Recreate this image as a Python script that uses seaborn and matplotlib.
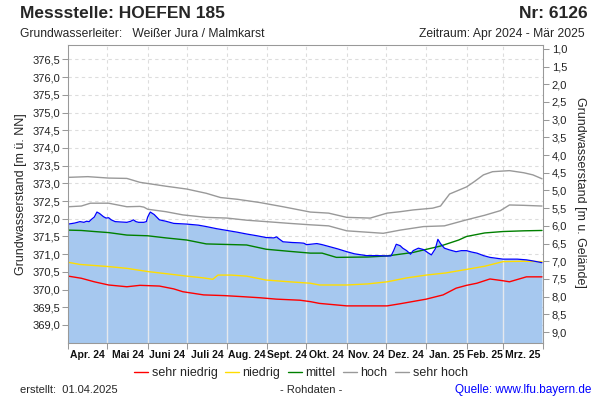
import numpy as np
import pandas as pd
import matplotlib
matplotlib.use("Agg")
import matplotlib.pyplot as plt
import matplotlib.dates as mdates
from matplotlib.ticker import FixedLocator, FuncFormatter
import seaborn as sns

# ---------------- data (days since 2024-04-01, level in m ü. NN) ----------------
start = pd.Timestamp("2024-04-01")

meas_days = [0, 5, 9, 12, 14, 16, 18, 20, 22, 24, 27, 29, 31, 33, 36, 40, 45, 48, 50, 52,
             54, 58, 60, 61, 63, 66, 70, 75, 81, 91, 100, 106, 114, 122, 130, 137, 145, 152,
             158, 160, 162, 165, 172, 178, 181, 183, 186, 191, 195, 201, 207, 214, 220, 229,
             237, 245, 248, 250, 252, 255, 257, 260, 263, 265, 269, 273, 276, 279, 282, 284,
             286, 289, 293, 298, 302, 306, 310, 314, 319, 324, 334, 345, 352, 357, 364]
meas_vals = [371.85, 371.88, 371.92, 371.90, 371.93, 371.92, 371.99, 372.05, 372.19, 372.15,
             372.06, 372.02, 372.03, 371.97, 371.92, 371.91, 371.90, 371.93, 371.97, 371.92,
             371.90, 371.90, 371.92, 372.05, 372.19, 372.12, 371.97, 371.93, 371.87, 371.85,
             371.82, 371.78, 371.72, 371.67, 371.62, 371.57, 371.52, 371.47, 371.46, 371.49,
             371.43, 371.35, 371.33, 371.32, 371.31, 371.27, 371.28, 371.30, 371.27, 371.21,
             371.15, 371.07, 371.01, 370.96, 370.96, 370.95, 370.95, 371.10, 371.28, 371.24,
             371.17, 371.10, 371.00, 371.10, 371.17, 371.13, 371.05, 370.98, 371.15, 371.42,
             371.30, 371.17, 371.12, 371.07, 371.10, 371.10, 371.06, 371.03, 370.96, 370.91,
             370.86, 370.86, 370.84, 370.81, 370.76]

sn_days = [0, 10, 20, 31, 45, 55, 70, 81, 88, 104, 120, 134, 147, 160, 178, 186, 193, 214,
           230, 245, 255, 275, 288, 298, 306, 314, 324, 334, 339, 352, 364]
sn_vals = [370.38, 370.32, 370.22, 370.13, 370.08, 370.12, 370.10, 370.02, 369.94, 369.85,
           369.83, 369.80, 369.77, 369.73, 369.70, 369.66, 369.61, 369.54, 369.54, 369.54,
           369.60, 369.73, 369.85, 370.04, 370.12, 370.18, 370.30, 370.25, 370.22, 370.36, 370.36]

n_days = [0, 9, 20, 31, 45, 61, 75, 91, 104, 111, 113, 115, 125, 137, 152, 170, 186, 193,
          214, 230, 245, 260, 275, 290, 306, 320, 334, 350, 364]
n_vals = [370.77, 370.71, 370.68, 370.65, 370.60, 370.51, 370.45, 370.38, 370.33, 370.29,
          370.35, 370.41, 370.41, 370.38, 370.27, 370.22, 370.18, 370.13, 370.13, 370.16,
          370.22, 370.33, 370.41, 370.47, 370.57, 370.66, 370.79, 370.80, 370.79]

m_days = [0, 10, 20, 31, 45, 61, 75, 91, 106, 137, 152, 170, 186, 195, 206, 230, 245, 265,
          286, 300, 306, 320, 334, 350, 364]
m_vals = [371.68, 371.67, 371.64, 371.61, 371.54, 371.52, 371.46, 371.40, 371.29, 371.26,
          371.14, 371.08, 371.03, 371.03, 370.91, 370.92, 370.95, 371.05, 371.23, 371.40,
          371.50, 371.60, 371.64, 371.66, 371.67]

h_days = [0, 10, 17, 31, 45, 55, 58, 61, 75, 88, 106, 122, 137, 152, 170, 186, 200, 214,
          230, 242, 255, 273, 289, 306, 320, 332, 339, 350, 364]
h_vals = [372.34, 372.36, 372.44, 372.44, 372.34, 372.35, 372.33, 372.27, 372.20, 372.11,
          372.04, 372.02, 371.96, 371.92, 371.87, 371.83, 371.80, 371.66, 371.62, 371.59,
          371.68, 371.78, 371.80, 371.97, 372.10, 372.23, 372.39, 372.38, 372.36]

sh_days = [0, 15, 31, 45, 55, 75, 91, 106, 117, 130, 147, 165, 186, 200, 214, 232, 245, 255,
           265, 280, 286, 293, 306, 312, 319, 326, 339, 350, 357, 364]
sh_vals = [373.17, 373.19, 373.15, 373.14, 373.03, 372.92, 372.84, 372.72, 372.60, 372.55,
           372.46, 372.34, 372.19, 372.16, 372.04, 372.02, 372.16, 372.20, 372.25, 372.30,
           372.36, 372.70, 372.90, 373.05, 373.24, 373.33, 373.36, 373.30, 373.24, 373.13]

month_labels = ["Apr. 24", "Mai 24", "Juni 24", "Juli 24", "Aug. 24", "Sept. 24",
                "Okt. 24", "Nov. 24", "Dez. 24", "Jan. 25", "Feb. 25", "Mrz. 25"]
legend_labels = ["sehr niedrig", "niedrig", "mittel", "hoch", "sehr hoch"]
left_ticks = [369.0, 369.5, 370.0, 370.5, 371.0, 371.5, 372.0, 372.5, 373.0,
              373.5, 374.0, 374.5, 375.0, 375.5, 376.0, 376.5]
right_ticks = [1.0, 1.5, 2.0, 2.5, 3.0, 3.5, 4.0, 4.5, 5.0, 5.5, 6.0, 6.5, 7.0,
               7.5, 8.0, 8.5, 9.0]
ground_level = 377.8

# ---------------- style ----------------
sns.set_theme(style="white")
plt.rcParams["font.family"] = ["Liberation Sans", "DejaVu Sans"]

def to_dates(days):
    return start + pd.to_timedelta(days, unit="D")

fig = plt.figure(figsize=(6, 4), dpi=100)
ax = fig.add_axes([68.3 / 600, 1 - 342.7 / 400, (543.3 - 68.3) / 600, (342.7 - 45.3) / 400])

ymin, ymax = 368.5, 376.9
xmin, xmax = start, pd.Timestamp("2025-04-01")
ax.set_xlim(xmin, xmax)
ax.set_ylim(ymin, ymax)

# grid (behind)
month_starts = pd.date_range("2024-04-01", "2025-04-01", freq="MS")
for y in left_ticks:
    ax.axhline(y, color="#dddddd", lw=0.8, ls=(0, (3, 3)), zorder=0)
for d in month_starts[1:-1]:
    ax.axvline(d, color="#dddddd", lw=0.8, ls=(0, (3, 3)), zorder=0)

# measured level, filled
mdates_x = to_dates(meas_days)
ax.fill_between(mdates_x, meas_vals, ymin, color="#a6c8ef", lw=0, zorder=1)
# light month separators within the fill
mnum = mdates.date2num(mdates_x)
for d in month_starts[1:-1]:
    top = np.interp(mdates.date2num(d), mnum, meas_vals)
    ax.plot([d, d], [ymin, top], color="#e4e8ee", lw=1.0, zorder=1.5)

colors = ["#ff0000", "#ffdd00", "#008000", "#999999", "#999999"]
series = [(sn_days, sn_vals), (n_days, n_vals), (m_days, m_vals), (h_days, h_vals), (sh_days, sh_vals)]
for (dd, vv), lab, c in zip(series, legend_labels, colors):
    df = pd.DataFrame({"date": to_dates(dd), "val": vv})
    sns.lineplot(data=df, x="date", y="val", ax=ax, color=c, lw=1.0, label=lab, zorder=2)

dfm = pd.DataFrame({"date": mdates_x, "val": meas_vals})
sns.lineplot(data=dfm, x="date", y="val", ax=ax, color="#0000ff", lw=0.9, legend=False, zorder=2.5)

handles, labels = ax.get_legend_handles_labels()
ax.get_legend().remove()
fig.legend(handles, labels, loc="center", bbox_to_anchor=(301 / 600, 1 - 373 / 400), ncol=5,
           frameon=False, fontsize=9, handlelength=1.1, handletextpad=0.3, columnspacing=0.6)

# axes styling
for s in ax.spines.values():
    s.set_color("#999999")
    s.set_linewidth(0.75)
ax.set_xlabel("")
ax.set_ylabel("Grundwasserstand [m ü. NN]", fontsize=9, labelpad=4)
ax.set_yticks(left_ticks)
ax.yaxis.set_major_formatter(FuncFormatter(lambda v, p: f"{v:.1f}".replace(".", ",")))
ax.tick_params(axis="y", which="major", length=4, width=0.75, color="#999999", labelsize=8,
               labelcolor="#222222", pad=2, left=True)

ax.xaxis.set_major_locator(FixedLocator(mdates.date2num(month_starts)))
ax.xaxis.set_major_formatter(FuncFormatter(lambda v, p: ""))
mids = [mdates.date2num(a) + (mdates.date2num(b) - mdates.date2num(a)) / 2
        for a, b in zip(month_starts[:-1], month_starts[1:])]
ax.xaxis.set_minor_locator(FixedLocator(mids))
ax.xaxis.set_minor_formatter(FuncFormatter(lambda v, p: month_labels[p] if p is not None and p < len(month_labels) else ""))
ax.tick_params(axis="x", which="major", length=4, width=0.75, color="#999999", bottom=True)
ax.tick_params(axis="x", which="minor", length=0, labelsize=7.5, pad=5, labelcolor="#111111")
for t in ax.xaxis.get_minorticklabels():
    t.set_fontweight("bold")

ax2 = ax.twinx()
ax2.set_ylim(ground_level - ymin, ground_level - ymax)
ax2.set_yticks(right_ticks)
ax2.yaxis.set_major_formatter(FuncFormatter(lambda v, p: f"{v:.1f}".replace(".", ",")))
ax2.tick_params(axis="y", length=4, width=0.75, color="#999999", labelsize=8,
                labelcolor="#222222", pad=2, right=True)
for s in ax2.spines.values():
    s.set_color("#999999")
    s.set_linewidth(0.75)
ax2.grid(False)
ax.grid(False)

# texts
fig.text(20 / 600, 1 - 14 / 400, "Messstelle: HOEFEN 185", fontsize=12.5, fontweight="bold", va="center", ha="left")
fig.text(588 / 600, 1 - 14 / 400, "Nr: 6126", fontsize=12.5, fontweight="bold", va="center", ha="right")
fig.text(20 / 600, 1 - 34 / 400, "Grundwasserleiter:   Weißer Jura / Malmkarst", fontsize=8.7, va="center", ha="left")
fig.text(585 / 600, 1 - 34 / 400, "Zeitraum: Apr 2024 - Mär 2025", fontsize=8.7, va="center", ha="right")
fig.text(20 / 600, 1 - 390 / 400, "erstellt:  01.04.2025", fontsize=8, va="center", ha="left")
fig.text(311 / 600, 1 - 390 / 400, "- Rohdaten -", fontsize=8, va="center", ha="center")
fig.text(591 / 600, 1 - 390 / 400, "Quelle: www.lfu.bayern.de", fontsize=8.5, va="center", ha="right", color="#0000ff")
fig.text(580 / 600, 1 - 192 / 400, "Grundwasserstand [m u. Gelände]", fontsize=9, va="center", ha="center", rotation=270)

fig.savefig("out.png", dpi=100)
